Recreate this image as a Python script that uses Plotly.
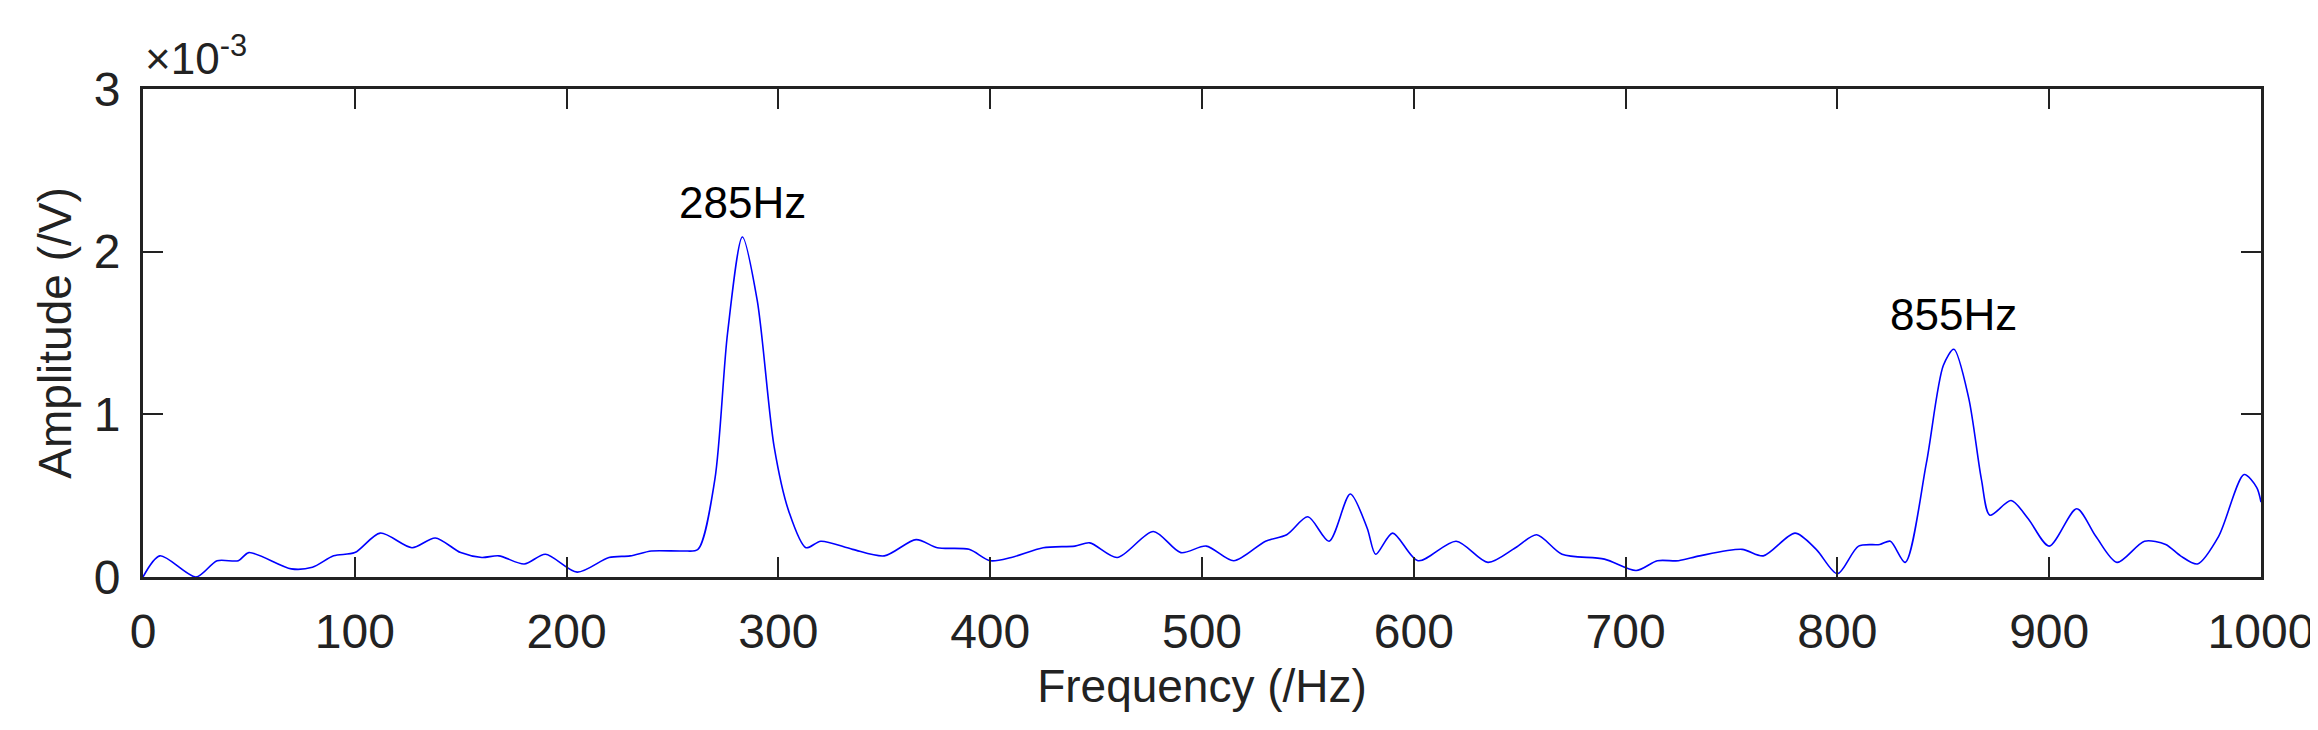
import plotly.graph_objects as go

# frequency (Hz) and amplitude (x1e-3 V)
freq = [0, 8, 25, 35, 45, 50, 70, 80, 90, 100, 112, 127, 138, 150, 160, 168, 180, 190,
        205, 220, 230, 240, 255, 262, 270, 276, 283, 290, 298, 305, 313, 320, 335, 350,
        365, 375, 390, 400, 410, 425, 440, 447, 460, 477, 490, 502, 515, 530, 540, 550,
        560, 570, 578, 582, 590, 602, 620, 635, 648, 658, 670, 690, 705, 715, 725, 735,
        755, 765, 780, 790, 800, 810, 820, 825, 832, 842, 850, 855, 862, 868, 872, 882,
        890, 900, 913, 922, 932, 945, 955, 962, 970, 980, 992, 998, 1000]
amp = [0.0, 0.13, 0.0, 0.1, 0.1, 0.15, 0.05, 0.06, 0.13, 0.15, 0.27, 0.18, 0.24, 0.15,
       0.12, 0.13, 0.08, 0.14, 0.03, 0.12, 0.13, 0.16, 0.16, 0.17, 0.6, 1.5, 2.09, 1.7,
       0.8, 0.4, 0.18, 0.22, 0.17, 0.13, 0.23, 0.18, 0.17, 0.1, 0.12, 0.18, 0.19, 0.21,
       0.12, 0.28, 0.15, 0.19, 0.1, 0.22, 0.26, 0.37, 0.22, 0.51, 0.3, 0.14, 0.27, 0.1,
       0.22, 0.09, 0.18, 0.26, 0.14, 0.11, 0.04, 0.1, 0.1, 0.13, 0.17, 0.13, 0.27, 0.17,
       0.02, 0.19, 0.2, 0.22, 0.09, 0.7, 1.3, 1.4, 1.1, 0.6, 0.38, 0.47, 0.36, 0.19, 0.42,
       0.25, 0.09, 0.22, 0.2, 0.13, 0.08, 0.25, 0.63, 0.55, 0.46]

peak_labels = ["285Hz", "855Hz"]
peak_x = [283, 855]
peak_y = [2.09, 1.4]

FONT = "Liberation Sans, Arial, sans-serif"

fig = go.Figure()
fig.add_trace(go.Scatter(x=freq, y=amp, mode="lines",
                         line=dict(color="#0000ff", width=1.6, shape="spline", smoothing=0.8),
                         showlegend=False))

for lab, px, py in zip(peak_labels, peak_x, peak_y):
    fig.add_annotation(x=px, y=py, text=lab, showarrow=False, yanchor="bottom",
                       yshift=8, font=dict(size=44, color="black", family=FONT))

fig.add_annotation(xref="paper", yref="paper", x=0, y=1, xanchor="left", yanchor="bottom",
                   yshift=4, showarrow=False,
                   text="×10<sup>-3</sup>", font=dict(size=44, color="#222", family=FONT))

axis_common = dict(showline=True, linecolor="#222", linewidth=3, mirror="ticks",
                   ticks="inside", ticklen=20, tickwidth=2, tickcolor="#222",
                   showgrid=False, zeroline=False, ticklabelstandoff=10,
                   tickfont=dict(size=48, color="#222", family=FONT))

fig.update_xaxes(range=[0, 1000], dtick=100, title=dict(text="Frequency (/Hz)",
                 font=dict(size=46, color="#222", family=FONT), standoff=14), **axis_common)
fig.update_yaxes(range=[0, 3], dtick=1, title=dict(text="Amplitude (/V)",
                 font=dict(size=46, color="#222", family=FONT), standoff=8), **axis_common)

fig.update_layout(width=2318, height=730, plot_bgcolor="white", paper_bgcolor="white",
                  margin=dict(l=135, r=58, t=81, b=161))

fig.write_html("out.html")
